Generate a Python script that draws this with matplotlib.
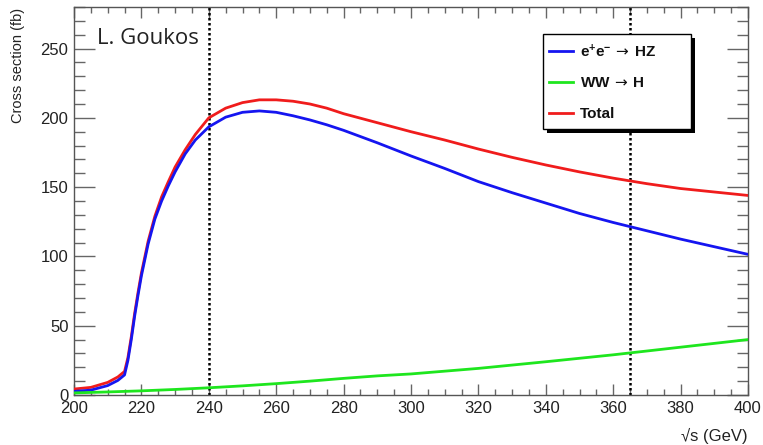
import matplotlib
matplotlib.use("Agg")
import matplotlib.pyplot as plt
from matplotlib.ticker import MultipleLocator
from matplotlib.lines import Line2D
from matplotlib.patches import Rectangle

plt.rcParams['font.family'] = ['Liberation Sans', 'DejaVu Sans']
plt.rcParams['mathtext.fontset'] = 'custom'
plt.rcParams['mathtext.rm'] = 'Liberation Sans'
plt.rcParams['mathtext.bf'] = 'Liberation Sans:bold'
plt.rcParams['mathtext.sf'] = 'DejaVu Sans'
plt.rcParams['mathtext.default'] = 'bf'

# ---- data ----
hz_x = [200, 205, 210, 213, 215, 216, 217, 218, 219, 220, 222, 224, 226, 228, 230,
        233, 236, 240, 245, 250, 255, 260, 265, 270, 275, 280, 290, 300, 310, 320,
        330, 340, 350, 360, 370, 380, 390, 400]
hz_y = [2.6, 3.5, 6.8, 10.5, 14.5, 25, 40, 57, 72, 86, 109, 127, 140, 151, 161,
        174, 184, 193.5, 200.5, 204, 205, 204, 201.5, 198.5, 195, 191, 182, 172.5, 163.5, 154,
        146, 138.5, 131, 124.5, 118.5, 112.5, 107, 101.5]

tot_x = hz_x
tot_y = [4.3, 5.5, 9.1, 13, 17, 27, 42, 59, 74, 88, 111, 129, 143, 154, 164.5,
         177, 188, 200, 207, 211, 213, 213, 212, 210, 207, 203, 196.5, 190, 184, 177.5,
         171.5, 166, 161, 156.5, 152.5, 149, 146.5, 144]

ww_x = [200, 210, 220, 230, 240, 250, 260, 270, 280, 290, 300, 320, 340, 360, 380, 400]
ww_y = [1.5, 2.2, 3.0, 4.0, 5.2, 6.6, 8.2, 10.0, 12.0, 13.8, 15.2, 19.2, 24.0, 29.0, 34.5, 40.0]

vlines_x = [240, 365]
x_ticks = [200, 220, 240, 260, 280, 300, 320, 340, 360, 380, 400]
y_ticks = [0, 50, 100, 150, 200, 250]
labels = [r"$e^{+}e^{-}\,\mathsf{\rightarrow}\,$HZ", r"WW$\,\mathsf{\rightarrow}\,$H", "Total"]
colors = ['#1515f0', '#1ee61e', '#f01c1c']

W, H = 763, 445
fig = plt.figure(figsize=(W / 100, H / 100), dpi=100)
ax = fig.add_axes([74 / W, 1 - 395 / H, (748 - 74) / W, (395 - 7) / H])

lw = 2.0
ax.plot(hz_x, hz_y, color=colors[0], lw=lw, zorder=4)
ax.plot(ww_x, ww_y, color=colors[1], lw=lw, zorder=4)
ax.plot(tot_x, tot_y, color=colors[2], lw=lw, zorder=3)

for xv in vlines_x:
    ax.axvline(xv, color='black', lw=1.8, ls=(0, (1, 1)), zorder=2)

ax.set_xlim(200, 400)
ax.set_ylim(0, 280)
ax.set_xticks(x_ticks)
ax.set_yticks(y_ticks)
ax.xaxis.set_minor_locator(MultipleLocator(5))
ax.yaxis.set_minor_locator(MultipleLocator(10))

tc = '#666666'
ax.tick_params(axis='both', which='both', direction='in', top=True, right=True,
               color=tc, width=1.0, labelsize=12, labelcolor='#222222')
ax.tick_params(axis='y', which='major', length=15, pad=4)
ax.tick_params(axis='y', which='minor', length=8)
ax.tick_params(axis='x', which='major', length=8, pad=4)
ax.tick_params(axis='x', which='minor', length=4)
for s in ax.spines.values():
    s.set_color('#555555')
    s.set_linewidth(1.0)

fig.text(18 / W, 1 - 8 / H, "Cross section (fb)", rotation=90, ha='center', va='top',
         fontsize=10.5, color='#222222')
fig.text(748 / W, 1 - 436 / H, "\u221As (GeV)", ha='right', va='center',
         fontsize=12, color='#222222')

fig.text(97 / W, 1 - 44 / H, "L. Goukos", ha='left', va='baseline',
         fontsize=16, family=['Open Sans', 'DejaVu Sans'], color='#222222')


# ---- legend box drawn in figure pixel coordinates ----
def fx(px):
    return px / W


def fy(py):
    return 1 - py / H


bx0, bx1, by0, by1 = 543, 691, 34, 129
shadow = Rectangle((fx(bx0 + 4), fy(by1 + 4)), fx(bx1 - bx0), (by1 - by0) / H,
                   transform=fig.transFigure, facecolor='black', edgecolor='black',
                   lw=0, zorder=20)
box = Rectangle((fx(bx0), fy(by1)), fx(bx1 - bx0), (by1 - by0) / H,
                transform=fig.transFigure, facecolor='white', edgecolor='black',
                lw=1.0, zorder=21)
fig.add_artist(shadow)
fig.add_artist(box)
rows_y = [50.5, 81.5, 113]
for lab, c, ry in zip(labels, colors, rows_y):
    fig.add_artist(Line2D([fx(549), fx(573)], [fy(ry), fy(ry)], color=c, lw=2.0,
                          transform=fig.transFigure, zorder=22))
    fig.text(fx(580), fy(ry), lab, ha='left', va='center_baseline', fontsize=11,
             fontweight='bold', color='#111111', zorder=23)

fig.savefig("out.png", dpi=100)
